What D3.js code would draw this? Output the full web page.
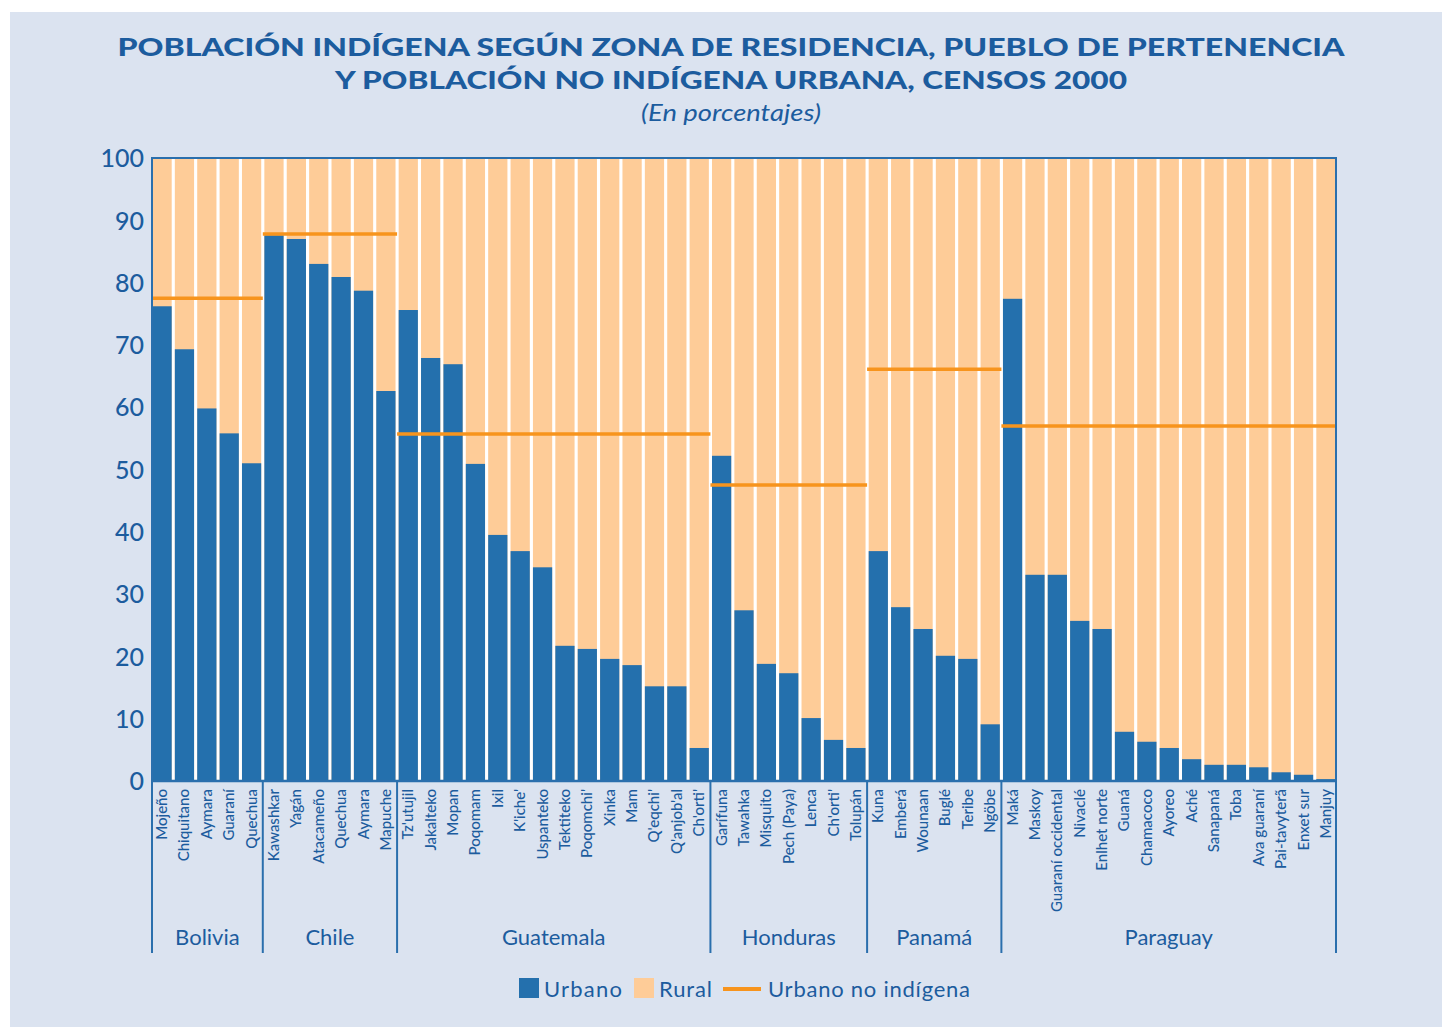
<!DOCTYPE html>
<html><head><meta charset="utf-8">
<script src="https://cdn.jsdelivr.net/npm/d3@7"></script>
<style>
html,body{margin:0;padding:0;background:#fff;}
svg{display:block;}
</style></head>
<body>
<svg id="chart" width="1442" height="1027"></svg>
<script>
const countries = ["Bolivia","Chile","Guatemala","Honduras","Panamá","Paraguay"];
const countryLabels = ["Bolivia","Chile","Guatemala","Honduras","Panamá","Paraguay"];
const peoples = [
 ["Mojeño","Chiquitano","Aymara","Guaraní","Quechua"],
 ["Kawashkar","Yagán","Atacameño","Quechua","Aymara","Mapuche"],
 ["Tz'utujil","Jakalteko","Mopan","Poqomam","Ixil","K'iche'","Uspanteko","Tektiteko","Poqomchi'","Xinka","Mam","Q'eqchi'","Q'anjob'al","Ch'orti'"],
 ["Garífuna","Tawahka","Misquito","Pech (Paya)","Lenca","Ch'orti'","Tolupán"],
 ["Kuna","Emberá","Wounaan","Buglé","Teribe","Ngöbe"],
 ["Maká","Maskoy","Guaraní occidental","Nivaclé","Enlhet norte","Guaná","Chamacoco","Ayoreo","Aché","Sanapaná","Toba","Ava guaraní","Pai-tavyterã","Enxet sur","Manjuy"]
];
const urbano = [
 [76.2,69.3,59.8,55.8,51.0],
 [87.6,87.0,83.0,80.9,78.7,62.6],
 [75.6,67.9,66.9,50.9,39.5,36.9,34.3,21.7,21.2,19.6,18.6,15.2,15.2,5.3],
 [52.2,27.4,18.8,17.3,10.1,6.6,5.3],
 [36.9,27.9,24.4,20.1,19.6,9.1],
 [77.4,33.1,33.1,25.7,24.4,7.9,6.3,5.3,3.5,2.6,2.6,2.2,1.4,1.0,0.3]
];
const urbanoNoIndigena = [77.5,87.8,55.7,47.5,66.1,57.0];
const yTicks = [0,10,20,30,40,50,60,70,80,90,100];
const legendLabels = ["Urbano","Rural","Urbano no indígena"];
const titleLines = ["POBLACIÓN INDÍGENA SEGÚN ZONA DE RESIDENCIA, PUEBLO DE PERTENENCIA","Y POBLACIÓN NO INDÍGENA URBANA, CENSOS 2000"];
const subtitle = "(En porcentajes)";

const C = {bg:"#dbe3f0", blue:"#2470ad", peach:"#fecc98", orange:"#f7941d", text:"#1c5c9e", frame:"#2a6fad"};
const svg = d3.select("#chart");
svg.append("rect").attr("x",10).attr("y",12).attr("width",1432).attr("height",1015).attr("fill",C.bg);

const rows = [];
peoples.forEach((g,gi)=>g.forEach((p,pi)=>rows.push({key:gi+"-"+pi, name:p, g:gi, v:urbano[gi][pi]})));

const L=152,R=1336,T=158,B=781;
const x = d3.scaleBand().domain(rows.map(d=>d.key)).range([L,R]).paddingInner(0.14).paddingOuter(0.02);
const y = d3.scaleLinear().domain([0,100]).range([B,T]);
const step = x.step();

svg.append("rect").attr("x",L).attr("y",T).attr("width",R-L).attr("height",B-T).attr("fill","#ffffff");

// rural background bars
svg.append("g").selectAll("rect").data(rows).join("rect")
 .attr("x",d=>x(d.key)).attr("width",x.bandwidth())
 .attr("y",y(100)).attr("height",y(0)-y(100)).attr("fill",C.peach);
// urban bars
svg.append("g").selectAll("rect").data(rows).join("rect")
 .attr("x",d=>x(d.key)).attr("width",x.bandwidth())
 .attr("y",d=>y(d.v)).attr("height",d=>y(0)-y(d.v)).attr("fill",C.blue);

// group info
const groups = peoples.map((g,gi)=>{
  const first = rows.find(r=>r.g===gi), last = rows.filter(r=>r.g===gi).slice(-1)[0];
  return {gi, x0:x(first.key)-step*x.paddingInner()/2, x1:x(last.key)+x.bandwidth()+step*x.paddingInner()/2};
});
groups[0].x0 = L; groups[groups.length-1].x1 = R;

// orange lines
svg.append("g").selectAll("line").data(groups).join("line")
 .attr("x1",d=>d.x0).attr("x2",d=>d.x1)
 .attr("y1",d=>y(urbanoNoIndigena[d.gi])).attr("y2",d=>y(urbanoNoIndigena[d.gi]))
 .attr("stroke",C.orange).attr("stroke-width",3.5);

// frame
svg.append("path").attr("d",`M${L},${B}V${T}H${R}V${B}`).attr("fill","none").attr("stroke",C.frame).attr("stroke-width",2);
svg.append("line").attr("x1",L-1).attr("x2",R+1).attr("y1",B).attr("y2",B).attr("stroke",C.frame).attr("stroke-width",2.5);

// y axis labels
const yAxis = d3.axisLeft(y).tickValues(yTicks).tickSize(0).tickPadding(8);
const ya = svg.append("g").attr("transform",`translate(${L},0)`).call(yAxis);
ya.select(".domain").remove();
ya.selectAll("text").attr("fill",C.text).style("font-family","Lato,sans-serif").style("font-weight","500").style("font-size","25px").attr("dy","0.35em");

// group dividers
const divX = [L, ...groups.slice(1).map(g=>g.x0), R];
svg.append("g").selectAll("line").data(divX).join("line")
 .attr("x1",d=>d).attr("x2",d=>d).attr("y1",B).attr("y2",953)
 .attr("stroke",C.frame).attr("stroke-width",2);

// people labels
svg.append("g").selectAll("text").data(rows).join("text")
 .attr("transform",d=>`translate(${x(d.key)+x.bandwidth()/2+5},789) rotate(-90)`)
 .attr("text-anchor","end").attr("fill",C.text)
 .style("font-family","Lato,sans-serif").style("font-weight","500").style("font-size","15px")
 .text(d=>d.name);

// country labels
svg.append("g").selectAll("text").data(groups).join("text")
 .attr("x",d=>(d.x0+d.x1)/2).attr("y",945).attr("text-anchor","middle").attr("fill",C.text)
 .style("font-family","Lato,sans-serif").style("font-size","22px")
 .text(d=>countryLabels[d.gi]);

// title
svg.append("text").attr("x",731).attr("y",56).attr("text-anchor","middle").attr("fill",C.text)
 .style("font-family","Lato,'Open Sans',sans-serif").style("font-weight","900").style("font-size","25px")
 .attr("textLength",1227).attr("lengthAdjust","spacingAndGlyphs").text(titleLines[0]);
svg.append("text").attr("x",731).attr("y",89).attr("text-anchor","middle").attr("fill",C.text)
 .style("font-family","Lato,'Open Sans',sans-serif").style("font-weight","900").style("font-size","25px")
 .attr("textLength",792).attr("lengthAdjust","spacingAndGlyphs").text(titleLines[1]);
svg.append("text").attr("x",731).attr("y",121).attr("text-anchor","middle").attr("fill",C.text)
 .style("font-family","Lato,sans-serif").style("font-style","italic").style("font-size","23px")
 .attr("textLength",180).attr("lengthAdjust","spacingAndGlyphs").text(subtitle);

// legend
const lg = svg.append("g").style("font-family","Lato,'Open Sans',sans-serif").style("font-size","22px").attr("fill",C.text);
lg.append("rect").attr("x",519).attr("y",978).attr("width",20).attr("height",20).attr("fill",C.blue);
lg.append("text").attr("x",544).attr("y",997).attr("textLength",78).text(legendLabels[0]);
lg.append("rect").attr("x",634).attr("y",978).attr("width",20).attr("height",20).attr("fill",C.peach);
lg.append("text").attr("x",659).attr("y",997).attr("textLength",53).text(legendLabels[1]);
lg.append("line").attr("x1",723).attr("x2",761).attr("y1",989).attr("y2",989).attr("stroke",C.orange).attr("stroke-width",4);
lg.append("text").attr("x",768).attr("y",997).attr("textLength",202).text(legendLabels[2]);
</script>
</body></html>
